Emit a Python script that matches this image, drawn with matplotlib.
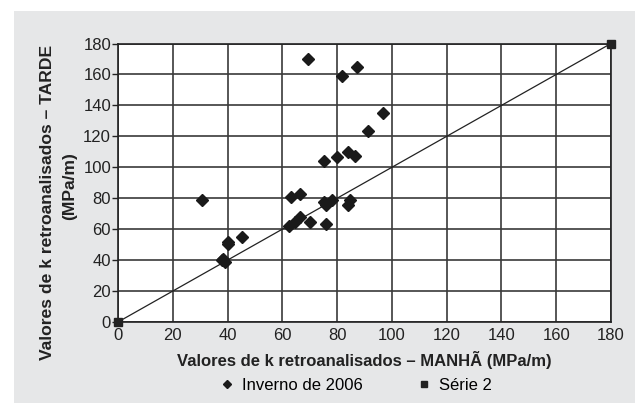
import matplotlib.pyplot as plt
from matplotlib.patches import Rectangle

plt.rcParams['font.family'] = ['Liberation Sans', 'DejaVu Sans']

# k values back-calculated, morning (x) vs afternoon (y), MPa/m
manha = [30.7, 69.5, 81.8, 87.2, 96.8, 91.4, 75.2, 79.8, 84.0, 86.5,
         37.8, 38.5, 39.2, 40.3, 40.3, 45.4, 63.0, 66.3, 62.3, 64.6,
         66.3, 70.1, 75.1, 75.8, 75.9, 78.3, 84.0, 84.7, 76.0]
tarde = [78.6, 170.0, 159.3, 164.7, 135.0, 123.5, 104.3, 106.9, 110.0, 107.5,
         40.2, 41.0, 39.0, 51.5, 50.5, 54.8, 80.5, 83.0, 62.2, 64.6,
         67.8, 64.6, 77.3, 75.8, 63.2, 78.6, 75.8, 78.6, 76.5]

# equality line
serie2_x = [0, 180]
serie2_y = [0, 180]

ticks = [0, 20, 40, 60, 80, 100, 120, 140, 160, 180]

fig = plt.figure(figsize=(6.35, 4.03), dpi=100)
fig.patches.append(Rectangle((14 / 635, 0), 1, 1 - 11 / 403, transform=fig.transFigure,
                             facecolor='#e6e7e8', edgecolor='none', zorder=-10))

ax = fig.add_axes([118 / 635, 1 - 322 / 403, 493 / 635, 278.5 / 403])
ax.set_facecolor('white')

ax.plot(serie2_x, serie2_y, color='#222222', lw=0.9, marker='s', ms=6,
        mfc='#222222', mec='#222222', clip_on=False, zorder=3, label='Série 2')
ax.plot(manha, tarde, linestyle='none', marker='D', ms=6, color='#1a1a1a',
        clip_on=False, zorder=4, label='Inverno de 2006')

ax.set_xlim(0, 180)
ax.set_ylim(0, 180)
ax.set_xticks(ticks)
ax.set_yticks(ticks)
ax.grid(True, color='#3a3a3a', lw=1.2)
ax.set_axisbelow(True)
for s in ax.spines.values():
    s.set_color('#222222')
    s.set_linewidth(1.2)

ax.tick_params(axis='x', length=0, pad=4, labelsize=12, colors='#222222')
ax.tick_params(axis='y', length=4, width=1, pad=1, labelsize=12, colors='#222222')

ax.set_xlabel('Valores de k retroanalisados – MANHÃ (MPa/m)', fontsize=12,
              fontweight='bold', color='#222222', labelpad=6)

# y title: two lines, each placed on its own
fig.text(48 / 635, 1 - 202 / 403, 'Valores de k retroanalisados – TARDE', rotation=90,
         ha='center', va='center', fontsize=12.6, fontweight='bold', color='#222222')
fig.text(70 / 635, 1 - 186.5 / 403, '(MPa/m)', rotation=90,
         ha='center', va='center', fontsize=12.6, fontweight='bold', color='#222222')

handles, labels = ax.get_legend_handles_labels()
leg = fig.legend(handles[::-1], labels[::-1], loc='center', ncol=2, frameon=False,
                 bbox_to_anchor=(357 / 635, 1 - 385 / 403), fontsize=12,
                 handlelength=0.6, columnspacing=3.4, handletextpad=0.6)
# legend shows markers only
for h in leg.legend_handles:
    h.set_linestyle('none')
    h.set_markersize(4.5)

fig.savefig('out.png', dpi=100)
